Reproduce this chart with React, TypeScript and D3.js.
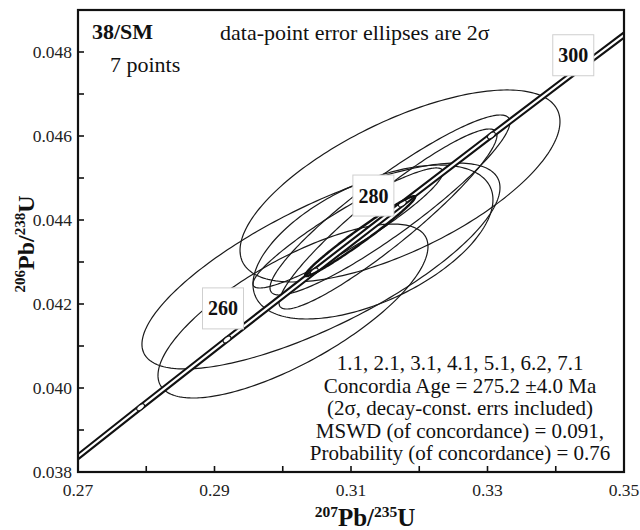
import React from "react";
import * as d3 from "d3";

// concordia curve (206Pb/238U vs 207Pb/235U) at 10 Ma steps
const concordiaAges = [230, 240, 250, 260, 270, 280, 290, 300, 310];
const concordia75 = [0.254222, 0.26664, 0.279171, 0.291832, 0.304617, 0.317529, 0.330568, 0.343738, 0.357037];
const concordia68 = [0.036322, 0.037932, 0.039543, 0.041157, 0.042773, 0.044392, 0.046013, 0.047637, 0.049263];
const labelledAges = [260, 280, 300];

// spot analyses, 2 sigma errors
const spots = ["1.1", "2.1", "3.1", "4.1", "5.1", "6.2", "7.1"];
const pb75 = [0.3056, 0.3015, 0.31718, 0.31322, 0.31571, 0.31542, 0.30956];
const err75 = [0.02623, 0.01978, 0.02344, 0.01758, 0.01758, 0.01597, 0.01392];
const pb68 = [0.042905, 0.041833, 0.04481, 0.043476, 0.044357, 0.044024, 0.04381];
const err68 = [0.002452, 0.002071, 0.002286, 0.001833, 0.002143, 0.002143, 0.001429];
const rhos = [0.76, 0.74, 0.67, 0.55, 0.92, 0.93, 0.93];

// concordia age ellipse
const age75 = 0.311336, age75Err = 0.00806, age68 = 0.043615, age68Err = 0.000952, ageRho = 0.98;

const xTicks = [0.27, 0.28, 0.29, 0.3, 0.31, 0.32, 0.33, 0.34, 0.35];
const xTickLabels = ["0.27", "", "0.29", "", "0.31", "", "0.33", "", "0.35"];
const yTicks = [0.038, 0.039, 0.04, 0.041, 0.042, 0.043, 0.044, 0.045, 0.046, 0.047, 0.048, 0.049];
const yTickLabels = ["0.038", "", "0.040", "", "0.042", "", "0.044", "", "0.046", "", "0.048", ""];

const resultLines = [
  "1.1, 2.1, 3.1, 4.1, 5.1, 6.2, 7.1",
  "Concordia Age = 275.2 \u00b14.0 Ma",
  "(2\u03c3, decay-const. errs included)",
  "MSWD (of concordance) = 0.091,",
  "Probability (of concordance) = 0.76",
];

const W = 640, H = 530;
const left = 78, right = 624, top = 10, bottom = 472;
const serif = "'Liberation Serif', 'Times New Roman', serif";
const labelOffsets = { 260: [-4, -31], 280: [-29, -8], 300: [-8, -12] };

const ellipsePath = (cx, cy, ex, ey, rho, x, y) => {
  const k = Math.sqrt(1 - rho * rho);
  const pts = d3.range(0, 2 * Math.PI, Math.PI / 120).map(t => [
    x(cx + ex * Math.cos(t)),
    y(cy + ey * (rho * Math.cos(t) + k * Math.sin(t))),
  ]);
  return d3.line().curve(d3.curveLinearClosed)(pts);
};

const App = () => {
  const x = d3.scaleLinear([0.27, 0.35], [left, right]);
  const y = d3.scaleLinear([0.038, 0.049], [bottom, top]);
  const conc = concordiaAges.map((a, i) => [x(concordia75[i]), y(concordia68[i])]);
  const concPath = d3.line().curve(d3.curveCatmullRom)(conc);

  return (
    <svg width={W} height={H} style={{ position: "absolute", left: 0, top: 0, background: "#fff" }} fontFamily={serif}>
      <defs>
        <clipPath id="plot"><rect x={left} y={top} width={right - left} height={bottom - top} /></clipPath>
      </defs>
      <rect x={0} y={0} width={W} height={H} fill="#fff" />
      <g clipPath="url(#plot)">
        {spots.map((s, i) => (
          <path key={s} d={ellipsePath(pb75[i], pb68[i], err75[i], err68[i], rhos[i], x, y)} fill="none" stroke="#1a1a1a" strokeWidth={1.2} />
        ))}
        <path d={concPath} fill="none" stroke="#111" strokeWidth={6.4} />
        <path d={concPath} fill="none" stroke="#fff" strokeWidth={2.2} />
        {concordiaAges.map((a, i) => {
          if (i === 0 || i === concordiaAges.length - 1) return null;
          const ang = Math.atan2(conc[i + 1][1] - conc[i - 1][1], conc[i + 1][0] - conc[i - 1][0]) * 180 / Math.PI;
          return (
            <ellipse key={a} cx={conc[i][0]} cy={conc[i][1]} rx={4.5} ry={2.4}
              transform={`rotate(${ang} ${conc[i][0]} ${conc[i][1]})`} fill="#fff" stroke="#111" strokeWidth={1.1} />
          );
        })}
        <path d={ellipsePath(age75, age68, age75Err, age68Err, ageRho, x, y)} fill="none" stroke="#111" strokeWidth={2.4} />
      </g>
      {labelledAges.map(a => {
        const i = concordiaAges.indexOf(a);
        const [dx, dy] = labelOffsets[a];
        const bx = conc[i][0] + dx, by = conc[i][1] + dy;
        return (
          <g key={a}>
            <rect x={bx - 20.5} y={by - 20.5} width={41} height={41} fill="#fff" stroke="#cfcfcf" strokeWidth={1} />
            <text x={bx} y={by + 7} textAnchor="middle" fontSize={20} fontWeight="bold" fill="#111">{a}</text>
          </g>
        );
      })}
      <rect x={left} y={top} width={right - left} height={bottom - top} fill="none" stroke="#111" strokeWidth={2.2} />
      {xTicks.map((t, i) => (
        <g key={t}>
          <line x1={x(t)} x2={x(t)} y1={bottom} y2={bottom - 6} stroke="#111" strokeWidth={1.6} />
          <text x={x(t)} y={496} textAnchor="middle" fontSize={17.5} fill="#222">{xTickLabels[i]}</text>
        </g>
      ))}
      {yTicks.map((t, i) => (
        <g key={t}>
          <line x1={left} x2={left + 6} y1={y(t)} y2={y(t)} stroke="#111" strokeWidth={1.6} />
          <text x={72} y={y(t) + 6} textAnchor="end" fontSize={17.5} fill="#222">{yTickLabels[i]}</text>
        </g>
      ))}
      <text x={365} y={526} textAnchor="middle" fontWeight="bold" fontSize={25} fill="#111">
        <tspan fontSize={15.5} dy={-9}>207</tspan><tspan dy={9}>Pb/</tspan><tspan fontSize={15.5} dy={-9}>235</tspan><tspan dy={9}>U</tspan>
      </text>
      <text transform="translate(34,244) rotate(-90)" textAnchor="middle" fontWeight="bold" fontSize={24} fill="#111">
        <tspan fontSize={15} dy={-9}>206</tspan><tspan dy={9}>Pb/</tspan><tspan fontSize={15} dy={-9}>238</tspan><tspan dy={9}>U</tspan>
      </text>
      <text x={92} y={39} fontSize={22} fontWeight="bold" fill="#111">38/SM</text>
      <text x={110} y={72} fontSize={22} fill="#111">7 points</text>
      <text x={220} y={40} fontSize={22} fill="#111">data-point error ellipses are 2σ</text>
      {resultLines.map((l, i) => (
        <text key={i} x={460} y={370 + i * 22.5} textAnchor="middle" fontSize={21} fill="#111">{l}</text>
      ))}
    </svg>
  );
};

export default App;
